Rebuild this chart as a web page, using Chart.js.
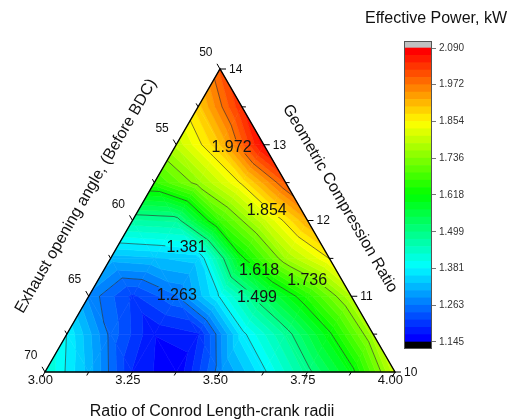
<!DOCTYPE html>
<html>
<head>
<meta charset="utf-8">
<title>Effective Power ternary contour</title>
<script src="https://cdn.jsdelivr.net/npm/chart.js@4.4.1/dist/chart.umd.min.js"></script>
<style>
  html, body { margin: 0; padding: 0; background: #fff; overflow: hidden; }
  #wrap { position: relative; width: 509px; height: 419px; }
  #tern { position: absolute; left: 0; top: 0; }
  #bar { position: absolute; left: 380px; top: 30px; }
</style>
</head>
<body>
<div id="wrap">
  <canvas id="tern" width="509" height="419"></canvas>
  <canvas id="bar" width="129" height="330"></canvas>
</div>
<script>
// ---- Axis ticks --------------------------------------------------------
const ratioTicks = [3.00, 3.25, 3.50, 3.75, 4.00];        // bottom axis
const exhaustTicks = [50, 55, 60, 65, 70];                // left axis, deg before BDC
const compressionTicks = [10, 11, 12, 13, 14];            // right axis
const powerTicks = [1.145, 1.263, 1.381, 1.499, 1.618, 1.736, 1.854, 1.972, 2.090];

// ---- Effective power, kW, on the ternary lattice -------------------------
// One row per compression-ratio step of 0.5; each row starts on the left
// edge and moves toward the right edge in conrod-ratio steps of 0.125.
const powerAtCR10   = [1.43, 1.323, 1.19, 1.145, 1.278, 1.374, 1.487, 1.601, 1.80];
const powerAtCR10_5 = [1.38, 1.255, 1.17, 1.19, 1.37, 1.48, 1.61, 1.77];
const powerAtCR11   = [1.28, 1.21, 1.26, 1.385, 1.53, 1.65, 1.78];
const powerAtCR11_5 = [1.32, 1.33, 1.345, 1.61, 1.76, 1.855];
const powerAtCR12   = [1.47, 1.48, 1.67, 1.80, 1.924];
const powerAtCR12_5 = [1.66, 1.75, 1.86, 2.00];
const powerAtCR13   = [1.79, 1.90, 2.08];
const powerAtCR13_5 = [1.89, 2.04];
const powerAtCR14   = [2.00];

// Where each contour value is written (ternary fractions: r toward the
// bottom-right corner, c toward the apex)
const contourLabelSpots = [
  { level: 1.263, r: 0.248, c: 0.257 },
  { level: 1.381, r: 0.197, c: 0.414 },
  { level: 1.499, r: 0.481, c: 0.249 },
  { level: 1.618, r: 0.443, c: 0.337 },
  { level: 1.736, r: 0.597, c: 0.304 },
  { level: 1.854, r: 0.366, c: 0.535 },
  { level: 1.972, r: 0.161, c: 0.744 }
];

const FONT = '"Liberation Sans", Arial, Helvetica, sans-serif';
const H = Math.sqrt(3) / 2;
const rows = [powerAtCR10, powerAtCR10_5, powerAtCR11, powerAtCR11_5, powerAtCR12,
              powerAtCR12_5, powerAtCR13, powerAtCR13_5, powerAtCR14];
const N = rows.length - 1;

// lattice nodes in the equilateral projection: x = r + c/2, y = c*sqrt(3)/2
const nodes = [];
rows.forEach((row, j) => row.forEach((v, i) => {
  const r = i / N, c = j / N;
  nodes.push({ x: r + c / 2, y: c * H, v: v, i: i, j: j });
}));

// ---- Colour levels: 5 fill bands per labelled interval -----------------
const SUB = 5;
const fillLevels = [];
for (let k = 0; k < powerTicks.length - 1; k++)
  for (let s = 0; s < SUB; s++)
    fillLevels.push(powerTicks[k] + (powerTicks[k + 1] - powerTicks[k]) * s / SUB);
fillLevels.push(powerTicks[powerTicks.length - 1]);

function hsv(h) {
  const f = n => {
    const k = (n + h / 60) % 6;
    return Math.round(255 * (1 - Math.max(0, Math.min(k, 4 - k, 1))));
  };
  return 'rgb(' + f(5) + ',' + f(3) + ',' + f(1) + ')';
}
const bandCount = fillLevels.length - 1;
const bands = [{ lo: -Infinity, hi: fillLevels[0], color: '#000000' }];
for (let b = 0; b < bandCount; b++)
  bands.push({ lo: fillLevels[b], hi: fillLevels[b + 1], color: hsv(240 * (1 - b / (bandCount - 1))) });
bands.push({ lo: fillLevels[bandCount], hi: Infinity, color: '#c0c0c0' });

function clipPoly(poly, level, keepAbove) {
  const out = [];
  for (let k = 0; k < poly.length; k++) {
    const a = poly[k], b = poly[(k + 1) % poly.length];
    const da = keepAbove ? a.v - level : level - a.v;
    const db = keepAbove ? b.v - level : level - b.v;
    if (da >= 0) out.push(a);
    if ((da >= 0) !== (db >= 0)) {
      const t = da / (da - db);
      out.push({ x: a.x + (b.x - a.x) * t, y: a.y + (b.y - a.y) * t, v: level });
    }
  }
  return out;
}

// ---- Ternary contour plugin --------------------------------------------
const ternaryPlugin = {
  id: 'ternaryContour',
  beforeDatasetsDraw(chart) {
    const ctx = chart.ctx;
    const xs = chart.scales.x, ys = chart.scales.y;
    const pts = chart.data.datasets[0].data;
    const grid = [];
    pts.forEach(p => { (grid[p.j] = grid[p.j] || [])[p.i] = {
      x: xs.getPixelForValue(p.x), y: ys.getPixelForValue(p.y), v: p.v }; });

    const tris = [];
    for (let j = 0; j < N; j++) {
      for (let i = 0; i < N - j; i++) {
        tris.push([grid[j][i], grid[j][i + 1], grid[j + 1][i]]);
        if (i + j <= N - 2) tris.push([grid[j][i + 1], grid[j + 1][i + 1], grid[j + 1][i]]);
      }
    }
    chart.$tris = tris;

    ctx.save();
    ctx.lineJoin = 'round';
    tris.forEach(t => {
      const vmin = Math.min(t[0].v, t[1].v, t[2].v), vmax = Math.max(t[0].v, t[1].v, t[2].v);
      bands.forEach(b => {
        if (b.hi <= vmin || b.lo > vmax) return;
        let poly = t;
        if (isFinite(b.lo)) poly = clipPoly(poly, b.lo, true);
        if (poly.length >= 3 && isFinite(b.hi)) poly = clipPoly(poly, b.hi, false);
        if (poly.length < 3) return;
        ctx.beginPath();
        ctx.moveTo(poly[0].x, poly[0].y);
        for (let k = 1; k < poly.length; k++) ctx.lineTo(poly[k].x, poly[k].y);
        ctx.closePath();
        ctx.fillStyle = b.color;
        ctx.strokeStyle = b.color;
        ctx.lineWidth = 0.6;
        ctx.fill();
        ctx.stroke();
      });
    });
    ctx.restore();
  },
  afterDatasetsDraw(chart) {
    const ctx = chart.ctx;
    const xs = chart.scales.x, ys = chart.scales.y;
    const tp = (r, c) => ({ x: xs.getPixelForValue(r + c / 2), y: ys.getPixelForValue(c * H) });

    // contour labels and the gaps they leave in the lines
    ctx.save();
    ctx.font = '16px ' + FONT;
    const boxes = contourLabelSpots.map(s => {
      const p = tp(s.r, s.c);
      const txt = s.level.toFixed(3);
      const w = ctx.measureText(txt).width;
      return { txt, x: p.x, y: p.y, bx: p.x - w / 2 - 1, by: p.y - 7, bw: w + 2, bh: 14 };
    });
    ctx.restore();

    // contour lines at the labelled levels
    ctx.save();
    ctx.beginPath();
    ctx.rect(0, 0, chart.width, chart.height);
    boxes.forEach(b => ctx.rect(b.bx, b.by, b.bw, b.bh));
    ctx.clip('evenodd');
    ctx.beginPath();
    powerTicks.slice(1, -1).forEach(L => {
      chart.$tris.forEach(t => {
        const seg = [];
        for (let k = 0; k < 3; k++) {
          const a = t[k], b = t[(k + 1) % 3];
          if ((a.v >= L) !== (b.v >= L)) {
            const u = (L - a.v) / (b.v - a.v);
            seg.push({ x: a.x + (b.x - a.x) * u, y: a.y + (b.y - a.y) * u });
          }
        }
        if (seg.length === 2) { ctx.moveTo(seg[0].x, seg[0].y); ctx.lineTo(seg[1].x, seg[1].y); }
      });
    });
    ctx.strokeStyle = 'rgba(40,40,40,0.75)';
    ctx.lineWidth = 0.8;
    ctx.stroke();
    ctx.restore();

    ctx.save();
    ctx.font = '16px ' + FONT;
    ctx.fillStyle = '#141414';
    ctx.textAlign = 'center';
    ctx.textBaseline = 'middle';
    boxes.forEach(b => ctx.fillText(b.txt, b.x, b.y + 1));
    ctx.restore();

    // triangle frame
    const A = tp(0, 1), BL = tp(0, 0), BR = tp(1, 0);
    ctx.save();
    ctx.beginPath();
    ctx.moveTo(BL.x, BL.y); ctx.lineTo(BR.x, BR.y); ctx.lineTo(A.x, A.y); ctx.closePath();
    ctx.strokeStyle = '#000';
    ctx.lineWidth = 1.4;
    ctx.lineJoin = 'miter';
    ctx.stroke();

    // ticks
    const mids = arr => arr.slice(0, -1).map((v, k) => (v + arr[k + 1]) / 2);
    const axes = [
      { ticks: ratioTicks, pos: v => tp((v - ratioTicks[0]) / (ratioTicks[4] - ratioTicks[0]), 0),
        dir: [-0.5, H], fmt: v => v.toFixed(2), size: 13 },
      { ticks: exhaustTicks, pos: v => tp(0, 1 - (v - exhaustTicks[0]) / (exhaustTicks[4] - exhaustTicks[0])),
        dir: [-0.5, -H], fmt: v => String(v), size: 12 },
      { ticks: compressionTicks, pos: v => { const c = (v - compressionTicks[0]) / (compressionTicks[4] - compressionTicks[0]); return tp(1 - c, c); },
        dir: [1, 0], fmt: v => String(v), size: 12 }
    ];
    ctx.strokeStyle = '#000';
    ctx.lineWidth = 1;
    ctx.beginPath();
    axes.forEach(ax => {
      ax.ticks.forEach(v => { const p = ax.pos(v); ctx.moveTo(p.x, p.y); ctx.lineTo(p.x + ax.dir[0] * 6, p.y + ax.dir[1] * 6); });
      mids(ax.ticks).forEach(v => { const p = ax.pos(v); ctx.moveTo(p.x, p.y); ctx.lineTo(p.x + ax.dir[0] * 4, p.y + ax.dir[1] * 4); });
    });
    ctx.stroke();

    ctx.fillStyle = '#111';
    // bottom labels
    ctx.font = axes[0].size + 'px ' + FONT;
    ctx.textAlign = 'center'; ctx.textBaseline = 'middle';
    ratioTicks.forEach(v => { const p = axes[0].pos(v); ctx.fillText(axes[0].fmt(v), p.x - 4.6, p.y + 8.5); });
    // left labels
    ctx.font = axes[1].size + 'px ' + FONT;
    ctx.textAlign = 'right'; ctx.textBaseline = 'alphabetic';
    exhaustTicks.forEach(v => { const p = axes[1].pos(v); ctx.fillText(axes[1].fmt(v), p.x - 7.5, p.y - 13); });
    // right labels
    ctx.font = axes[2].size + 'px ' + FONT;
    ctx.textAlign = 'left'; ctx.textBaseline = 'middle';
    compressionTicks.forEach(v => { const p = axes[2].pos(v); ctx.fillText(axes[2].fmt(v), p.x + 9, p.y + 0.5); });

    // axis titles
    ctx.font = '16px ' + FONT;
    ctx.fillStyle = '#111';
    ctx.textAlign = 'center';
    ctx.textBaseline = 'alphabetic';
    ctx.fillText('Ratio of Conrod Length-crank radii', (BL.x + BR.x) / 2 - 8, BL.y + 44);

    const lm = { x: (BL.x + A.x) / 2, y: (BL.y + A.y) / 2 };
    ctx.save();
    ctx.translate(lm.x - 46.5, lm.y - 24.5);
    ctx.rotate(-Math.PI / 3);
    ctx.textBaseline = 'middle';
    ctx.fillText('Exhaust opening angle, (Before BDC)', 0, 0);
    ctx.restore();

    const rm = { x: (BR.x + A.x) / 2, y: (BR.y + A.y) / 2 };
    ctx.save();
    ctx.translate(rm.x + 32.5, rm.y - 22);
    ctx.rotate(Math.PI / 3);
    ctx.textBaseline = 'middle';
    ctx.fillText('Geometric Compression Ratio', 0, 0);
    ctx.restore();

    // colour scale title
    ctx.fillText('Effective Power, kW', 436, 23);
    ctx.restore();
  }
};

new Chart(document.getElementById('tern'), {
  type: 'scatter',
  data: { datasets: [{ data: nodes, pointRadius: 0, pointHoverRadius: 0 }] },
  options: {
    responsive: false,
    animation: false,
    events: [],
    layout: { padding: { left: 45, right: 114, top: 69, bottom: 47 } },
    plugins: { legend: { display: false }, tooltip: { enabled: false } },
    scales: {
      x: { type: 'linear', min: 0, max: 1, display: false },
      y: { type: 'linear', min: 0, max: H, display: false }
    }
  },
  plugins: [ternaryPlugin]
});

// ---- Colour scale ------------------------------------------------------
const OVER = 0.0193;
const barFrame = {
  id: 'barFrame',
  afterDatasetsDraw(chart) {
    const { ctx, chartArea: a } = chart;
    ctx.save();
    ctx.strokeStyle = '#555';
    ctx.lineWidth = 1;
    ctx.strokeRect(Math.round(a.left) - 0.5, Math.round(a.top) - 0.5,
                   Math.round(a.right - a.left) + 1, Math.round(a.bottom - a.top) + 1);
    ctx.restore();
  }
};
new Chart(document.getElementById('bar'), {
  type: 'bar',
  data: {
    labels: [''],
    datasets: bands.map(b => ({
      data: [[isFinite(b.lo) ? b.lo : powerTicks[0] - OVER,
              isFinite(b.hi) ? b.hi : powerTicks[powerTicks.length - 1] + OVER]],
      backgroundColor: b.color,
      borderWidth: 0,
      grouped: false,
      barPercentage: 1,
      categoryPercentage: 1
    }))
  },
  options: {
    responsive: false,
    animation: false,
    events: [],
    layout: { padding: { left: 25, right: 0, top: 12, bottom: 12 } },
    plugins: { legend: { display: false }, tooltip: { enabled: false } },
    scales: {
      x: { display: false },
      y: {
        position: 'right',
        min: powerTicks[0] - OVER,
        max: powerTicks[powerTicks.length - 1] + OVER,
        afterBuildTicks: s => { s.ticks = powerTicks.map(v => ({ value: v })); },
        afterFit: s => { s.width = 78; },
        grid: { drawOnChartArea: false, drawTicks: true, tickLength: 5, color: '#777' },
        border: { display: false },
        ticks: { font: { family: FONT, size: 10 }, color: '#333', padding: 3,
                 callback: v => Number(v).toFixed(3) }
      }
    }
  },
  plugins: [barFrame]
});
</script>
</body>
</html>
